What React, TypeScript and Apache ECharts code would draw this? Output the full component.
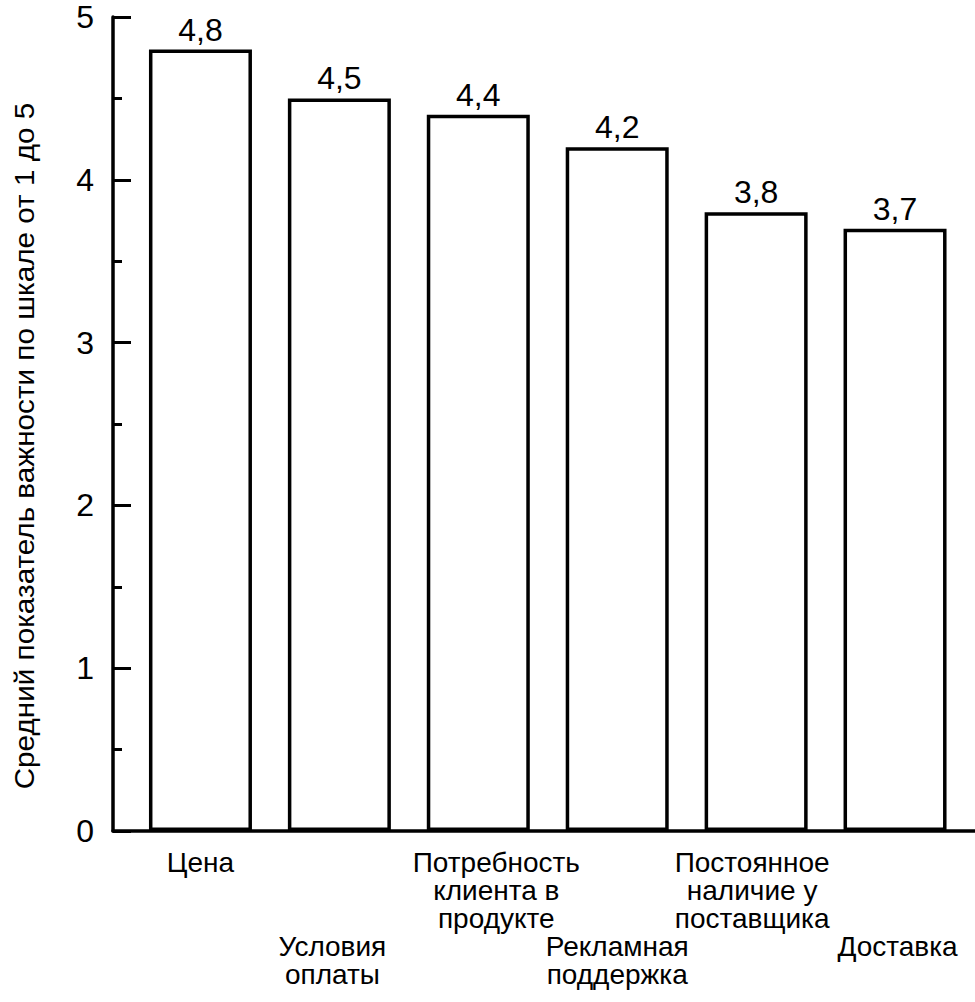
import React, { useEffect, useRef } from "react";
import * as echarts from "echarts";

const categories = [
  "Цена",
  "Условия\nоплаты",
  "Потребность\nклиента в\nпродукте",
  "Рекламная\nподдержка",
  "Постоянное\nналичие у\nпоставщика",
  "Доставка",
];
const values = [4.8, 4.5, 4.4, 4.2, 3.8, 3.7];
const yMin = 0;
const yMax = 5;
const yInterval = 1;
const yAxisTitle = "Средний показатель важности по шкале от 1 до 5";

const FONT = "'Liberation Sans', Arial, Helvetica, sans-serif";

export default function App() {
  const ref = useRef<HTMLDivElement>(null);

  useEffect(() => {
    if (!ref.current) return;
    const chart = echarts.init(ref.current, undefined, { renderer: "svg" });
    const labelPad: Record<number, number[]> = {
      1: [0, 14, 0, 0],
      2: [0, 0, 0, 36],
      4: [0, 8, 0, 0],
      5: [0, 0, 0, 5],
    };
    chart.setOption({
      animation: false,
      backgroundColor: "#ffffff",
      textStyle: { fontFamily: FONT, color: "#000" },
      grid: [
        { left: 131, right: 10.5, top: 17, bottom: 171, containLabel: false },
        { left: 113, right: 0, top: 17, bottom: 171, containLabel: false },
      ],
      xAxis: [
        {
          type: "category",
          gridIndex: 0,
          data: categories.map((c, i) =>
            labelPad[i] ? { value: c, textStyle: { padding: labelPad[i] } } : c
          ),
          axisLine: { show: false },
          axisTick: { show: false },
          splitLine: { show: false },
          axisLabel: {
            interval: 0,
            hideOverlap: false,
            margin: 17,
            fontFamily: FONT,
            fontSize: 28,
            lineHeight: 28,
            color: "#000",
            formatter: (v: string, i: number) => (i % 2 === 1 ? "\n\n\n" + v : v),
          },
        },
        {
          type: "value",
          gridIndex: 1,
          min: 0,
          max: 1,
          axisLine: { show: true, onZero: false, lineStyle: { color: "#000", width: 3.5 } },
          axisTick: { show: false },
          axisLabel: { show: false },
          splitLine: { show: false },
        },
      ],
      yAxis: [
        {
          type: "value",
          gridIndex: 0,
          min: yMin,
          max: yMax,
          interval: yInterval,
          offset: 18,
          axisLine: { show: true, lineStyle: { color: "#000", width: 3.5 } },
          axisTick: { show: true, inside: true, length: 18, lineStyle: { color: "#000", width: 3 } },
          minorTick: { show: true, splitNumber: 2, length: 9, lineStyle: { color: "#000", width: 3 } },
          splitLine: { show: false },
          axisLabel: {
            margin: 19,
            fontFamily: FONT,
            fontSize: 32,
            color: "#000",
            padding: [5, 0, 0, 0],
          },
        },
        {
          type: "value",
          gridIndex: 1,
          min: 0,
          max: 1,
          show: false,
        },
      ],
      graphic: [
        {
          type: "text",
          x: 24,
          y: 446,
          rotation: Math.PI / 2,
          scaleX: 1.1,
          style: {
            text: yAxisTitle,
            fill: "#000",
            font: `27px ${FONT}`,
            align: "center",
            verticalAlign: "middle",
          },
        },
      ],
      series: [
        {
          type: "bar",
          xAxisIndex: 0,
          yAxisIndex: 0,
          data: values,
          barWidth: 103,
          itemStyle: { color: "#fff", borderColor: "#000", borderWidth: 3.5 },
          label: {
            show: true,
            position: "top",
            distance: 4,
            fontFamily: FONT,
            fontSize: 32,
            color: "#000",
            formatter: (p: any) => String(p.value).replace(".", ","),
          },
        },
      ],
    });
    return () => chart.dispose();
  }, []);

  return (
    <div
      ref={ref}
      style={{ position: "fixed", left: 0, top: 0, width: 975, height: 1002, background: "#fff" }}
    />
  );
}
